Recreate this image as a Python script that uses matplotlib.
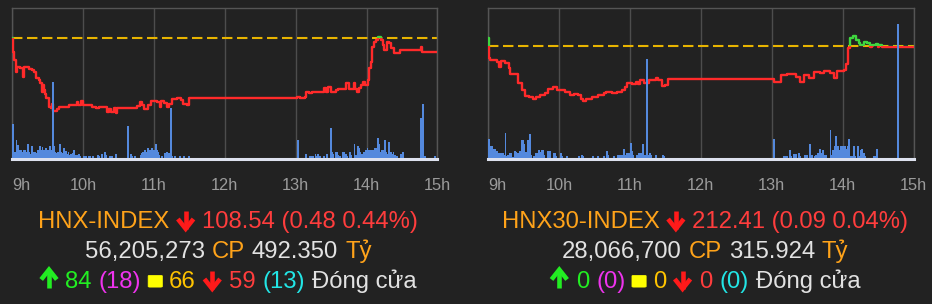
import matplotlib
matplotlib.use('Agg')
import matplotlib.pyplot as plt
from matplotlib.patches import Rectangle, FancyBboxPatch
from matplotlib.lines import Line2D

# ---------------- data ----------------
hour_labels = ['9h', '10h', '11h', '12h', '13h', '14h', '15h']
hour_ticks = [0, 60, 120, 180, 240, 300, 360]   # minutes after 9:00

# HNX-INDEX
hnx_ref = 109.02
hnx_t = [0, 1, 2, 3, 4, 7, 9, 10, 14, 17, 19, 20, 23, 24, 25, 26, 27, 28, 29, 31, 33, 34, 35, 38, 40,
         48, 55, 56, 58, 60, 68, 71, 74, 78, 80, 82, 84, 86, 88, 89, 106, 108, 110, 112, 115, 118, 123,
         125, 126, 129, 131, 133, 135, 140, 143, 145, 148, 150,
         241, 244, 248, 249, 251, 254, 257, 263, 264, 266, 267, 270, 274, 276, 282, 283, 285, 288, 289,
         290, 292, 294, 295, 297, 299, 301, 302, 304, 305, 306, 308, 310, 312, 314, 315, 317, 319, 321,
         323, 326, 328, 346, 347, 360]
hnx_p = [109.04, 108.56, 108.28, 107.87, 108.05, 108.00, 107.70, 108.02, 107.96, 107.93, 107.87, 107.65,
         107.59, 107.48, 107.19, 107.42, 107.25, 107.10, 106.96, 106.67, 106.62, 106.77, 106.53, 106.58,
         106.67, 106.73, 106.85, 106.73, 106.87, 106.73, 106.65, 106.62, 106.67, 106.65, 106.50, 106.59,
         106.50, 106.62, 106.47, 106.62, 106.70, 106.85, 106.73, 106.59, 106.73, 106.87, 106.85, 106.67,
         106.87, 106.79, 106.65, 106.77, 106.93, 106.96, 106.90, 106.77, 106.73, 106.96,
         107.02, 106.98, 107.02, 107.19, 107.14, 107.17, 107.19, 107.19, 107.31, 107.19, 107.34, 107.19,
         107.25, 107.28, 107.28, 107.48, 107.28, 107.28, 107.49, 107.28, 107.19, 107.31, 107.42, 107.53,
         107.42, 107.60, 107.99, 108.22, 108.73, 108.90, 108.97, 109.07, 108.97, 108.79, 108.62, 108.90,
         108.86, 108.68, 108.51, 108.53, 108.62, 108.71, 108.56, 108.54]
hnx_vol_t = [0, 1, 2, 3, 4, 5, 6, 7, 8, 9, 10, 11, 12, 13, 14, 15, 16, 17, 18, 19, 20, 21, 22, 23, 24, 25,
             26, 27, 28, 29, 30, 31, 32, 33, 34, 35, 36, 37, 38, 39, 40, 41, 42, 43, 44, 45, 46, 47, 48,
             49, 50, 51, 52, 53, 54, 55, 56, 57, 60, 61, 62, 64, 65, 68, 72, 73, 75, 78, 79, 82, 84, 87,
             97, 100, 101, 103, 108, 109, 110, 111, 112, 113, 114, 115, 116, 117, 118, 119, 120, 121, 122,
             123, 124, 126, 129, 130, 131, 132, 133, 134, 135, 137, 141, 145, 149,
             241, 248, 251, 252, 254, 256, 257, 258, 260, 263, 266, 269, 270, 271, 273, 274, 275, 277,
             279, 280, 281, 282, 283, 285, 286, 289, 290, 291, 292, 293, 294, 295, 296, 297, 298, 299,
             300, 301, 302, 303, 304, 305, 306, 307, 308, 309, 310, 311, 312, 313, 314, 315, 316, 317,
             318, 319, 320, 321, 322, 323, 325, 328, 330, 345, 346, 347, 349, 357]
hnx_vol = [34, 6, 6, 18, 13, 8, 8, 8, 6, 8, 8, 6, 6, 14, 6, 4, 12, 6, 5, 6, 5, 8, 6, 12, 8, 11,
           8, 6, 10, 6, 8, 12, 6, 8, 76, 12, 6, 5, 6, 4, 14, 6, 5, 10, 6, 7, 4, 6, 3,
           4, 3, 5, 8, 3, 2, 3, 4, 2, 2, 2, 2, 2, 2, 2, 3, 2, 4, 6, 3, 2, 2, 4,
           32, 4, 2, 2, 3, 5, 6, 5, 8, 6, 10, 6, 8, 6, 10, 8, 8, 14, 8,
           6, 3, 2, 5, 6, 4, 5, 3, 50, 2, 2, 2, 2, 2,
           18, 4, 2, 2, 2, 4, 2, 4, 2, 2, 4, 30, 6, 4, 6, 6, 3, 2,
           6, 6, 3, 4, 2, 6, 3, 14, 3, 2, 12, 10, 6, 4, 3, 6, 4, 8,
           10, 8, 6, 8, 6, 8, 10, 8, 10, 20, 14, 6, 8, 6, 8, 18, 6, 4,
           16, 6, 6, 4, 6, 3, 2, 4, 6, 40, 40, 54, 2, 2]

# HNX30-INDEX
h30_ref = 212.50
h30_t = [0, 1, 2, 8, 9, 11, 14, 18, 19, 25, 29, 31, 35, 38, 41, 44, 48, 51, 55, 58, 65, 69, 73, 76, 79,
         80, 83, 88, 93, 98, 100, 105, 109, 113, 116, 118, 122, 125, 127, 129, 132, 136, 139, 142, 144,
         147, 150, 152,
         242, 248, 253, 261, 264, 267, 272, 276, 281, 284, 289, 293, 295, 301, 303, 305, 306, 309, 311,
         314, 315, 318, 321, 323, 325, 328, 330, 331, 333, 335, 360]
h30_p = [213.03, 211.70, 211.57, 211.45, 211.12, 211.48, 211.35, 211.01, 210.63, 210.05, 209.57, 209.17,
         209.12, 208.99, 209.12, 209.23, 209.34, 209.61, 209.79, 209.57, 209.45, 209.23, 209.30, 209.23,
         208.99, 208.85, 208.99, 209.12, 209.23, 209.34, 209.45, 209.34, 209.45, 209.57, 209.79, 210.01,
         209.94, 210.12, 209.94, 210.23, 210.01, 210.23, 210.26, 210.35, 210.23, 209.83, 209.90, 210.30,
         210.12, 210.57, 210.61, 210.45, 210.12, 210.57, 210.39, 210.79, 210.68, 210.83, 210.68, 210.35,
         210.83, 210.90, 211.28, 212.35, 213.01, 213.17, 212.90, 212.68, 212.57, 212.79, 212.68, 212.43,
         212.57, 212.60, 212.43, 212.55, 212.45, 212.41, 212.41]
h30_vol_t = [0, 1, 2, 3, 4, 5, 6, 7, 8, 9, 10, 11, 12, 13, 14, 15, 16, 17, 18, 19, 20, 22, 23, 24, 25,
             26, 27, 28, 29, 30, 31, 32, 33, 34, 35, 36, 38, 39, 40, 41, 42, 43, 44, 45, 46, 47, 50, 51,
             52, 55, 56, 57, 61, 62, 66, 76, 79, 80, 88, 92, 97, 100, 101, 106, 109, 110, 112, 113, 114,
             115, 117, 118, 119, 120, 121, 122, 125, 126, 127, 128, 129, 130, 131, 132, 134, 135, 136,
             137, 141, 147, 148,
             241, 250, 251, 252, 255, 256, 258, 260, 262, 263, 267, 268, 269, 272, 273, 276, 277, 278,
             279, 280, 281, 282, 283, 284, 285, 289, 290, 291, 292, 293, 294, 295, 296, 297, 298, 299,
             300, 301, 302, 303, 304, 305, 306, 308, 309, 310, 312, 313, 315, 316, 317, 318, 326, 327,
             328, 346]
h30_vol = [19, 11.5, 11.5, 11.5, 9, 9, 7, 7, 5, 5, 5, 5, 5, 3, 25, 1.5, 3, 3, 5, 5, 1, 7, 6, 5, 5,
           7, 6, 17.5, 17.5, 13.5, 6, 5, 17.5, 17.5, 23.5, 3, 1.5, 1.5, 5, 5, 7.5, 6, 5, 7.5, 7.5, 3, 7, 7,
           7, 5, 5, 1.5, 5, 1.5, 1.5, 1.5, 3, 1.5, 1.5, 1.5, 1.5, 7, 3, 1.5, 3, 3, 3, 3, 9,
           3, 5, 5, 5, 15, 7, 3, 3, 3, 5, 5, 5, 13.5, 3, 3, 99, 3, 5,
           3, 3, 3, 1.5,
           19, 1.5, 1.5, 1.5, 7.5, 1.5, 3.5, 3.5, 5, 1.5, 3, 3, 3, 13.5, 3, 1.5, 3, 5,
           5, 9, 5, 3, 7.5, 3, 3, 27.5, 3, 7.5, 7.5, 11.5, 21.5, 11.5, 7.5, 5, 11.5, 11.5,
           11.5, 11.5, 9, 9, 11.5, 19, 1.5, 1.5, 11.5, 1.5, 11.5, 1.5, 7.5, 9, 5, 1.5, 1.5, 1.5,
           9, 133.5]

# text ('#down', '#up', '#square' are drawn symbols)
hnx_lines = [
    [('HNX-INDEX', 'orange'), ('#down', 'arrow_red'), ('108.54 (0.48 0.44%)', 'red')],
    [('56,205,273', 'white'), ('CP', 'orange'), ('492.350', 'white'), ('Tỷ', 'orange')],
    [('#up', 'arrow_green'), ('84', 'green'), ('(18)', 'magenta'), ('#square', 'yellow'), ('66', 'gold'),
     ('#down', 'arrow_red'), ('59', 'red'), ('(13)', 'cyan'), ('Đóng cửa', 'white')],
]
h30_lines = [
    [('HNX30-INDEX', 'orange'), ('#down', 'arrow_red'), ('212.41 (0.09 0.04%)', 'red')],
    [('28,066,700', 'white'), ('CP', 'orange'), ('315.924', 'white'), ('Tỷ', 'orange')],
    [('#up', 'arrow_green'), ('0', 'green'), ('(0)', 'magenta'), ('#square', 'yellow'), ('0', 'gold'),
     ('#down', 'arrow_red'), ('0', 'red'), ('(0)', 'cyan'), ('Đóng cửa', 'white')],
]

# ---------------- style ----------------
W, H = 932, 304
BG = '#222222'
COL = {'orange': '#ffa31a', 'red': '#ff3d3d', 'arrow_red': '#ff1a1a', 'white': '#e2e2e2',
       'green': '#22ee22', 'arrow_green': '#22ee22', 'magenta': '#ee33ee', 'yellow': '#ffff00',
       'gold': '#ffc400', 'cyan': '#22e5e5'}
FAM = ['Liberation Sans', 'DejaVu Sans']

fig = plt.figure(figsize=(W / 100, H / 100), dpi=100)
fig.patch.set_facecolor(BG)


def panel(x0, x1, t, p, ref, ylim, vt, vv):
    top, bot = 8, 159
    ax = fig.add_axes([x0 / W, 1 - bot / H, (x1 - x0) / W, (bot - top) / H])
    ax.set_facecolor(BG)
    ax.set_xlim(0, 360)
    ax.set_ylim(*ylim)
    ax.set_yticks([])
    ax.set_xticks(hour_ticks)
    ax.set_xticklabels(hour_labels, family=FAM)
    ax.tick_params(axis='x', length=0, pad=13.5, labelsize=11.8, labelcolor='#9b9b9b')
    ax.get_xticklabels()[0].set_ha('left')
    ax.xaxis.grid(True, color='#4d4d4d', lw=1.0)
    ax.set_axisbelow(True)
    for s in ('top', 'left', 'right'):
        ax.spines[s].set_color('#555555')
        ax.spines[s].set_linewidth(1.0)
    ax.spines['bottom'].set_color('#dde1ee')
    ax.spines['bottom'].set_linewidth(2.2)
    ax.axhline(ref, color='#e8b400', lw=1.5, dashes=(5, 2.2), zorder=2)
    red, = ax.step(t, p, where='post', color='#ff2a2a', lw=1.7, zorder=3)
    grn, = ax.step(t, p, where='post', color='#3fd63f', lw=1.7, zorder=3)
    red.set_clip_path(Rectangle((0, ylim[0]), 360, ref - ylim[0], transform=ax.transData))
    grn.set_clip_path(Rectangle((0, ref), 360, ylim[1] - ref, transform=ax.transData))
    ax2 = ax.twinx()
    ax2.set_ylim(-1.2, 150)
    ax2.bar(vt, vv, width=1.6, align='edge', color='#5489dd', linewidth=0)
    ax2.axis('off')
    return ax


panel(12, 437.5, hnx_t, hnx_p, hnx_ref, (104.88, 110.06), hnx_vol_t, hnx_vol)
panel(488, 913.5, h30_t, h30_p, h30_ref, (204.96, 215.03), h30_vol_t, h30_vol)

renderer = fig.canvas.get_renderer()
GAP = 7.0
FS = 17.2


def fx(x):
    return x / W


def fy(y):
    return 1 - y / H


def draw_symbol(kind, x, yb, color):
    # x: left edge in px, yb: baseline in px (from top)
    if kind == '#square':
        patch = FancyBboxPatch((fx(x + 1.5), fy(yb - 1.5)), 10.5 / W, 10.5 / H,
                               boxstyle='round,pad=0.002', transform=fig.transFigure,
                               facecolor=color, edgecolor=color, lw=0.5)
        fig.add_artist(patch)
        return
    w = 19.0
    h = 17.0
    cx = x + w / 2
    if kind == '#down':
        ytip, ytail = yb - 0.5, yb - h
        ywing = ytip - 8.5
        d = 1.3
    else:
        ytip, ytail = yb - h, yb - 0.5
        ywing = ytip + 8.5
        d = -1.3
    shaft = Line2D([fx(cx), fx(cx)], [fy(ytail), fy(ytip + d)],
                   transform=fig.transFigure, color=color, lw=3.3, solid_capstyle='butt')
    head = Line2D([fx(cx - 7.8), fx(cx), fx(cx + 7.8)], [fy(ywing), fy(ytip + d), fy(ywing)],
                  transform=fig.transFigure, color=color, lw=3.3, solid_joinstyle='miter',
                  solid_capstyle='butt')
    fig.add_artist(shaft)
    fig.add_artist(head)


def rich_line(xc, yb, parts):
    items = []
    for s, c in parts:
        if s.startswith('#'):
            items.append((s, c, 13.5 if s == '#square' else 19.0))
        else:
            tx = fig.text(0, fy(yb), s, color=COL[c], ha='left', va='baseline', family=FAM, fontsize=FS)
            items.append((tx, c, tx.get_window_extent(renderer).width))
    total = sum(i[2] for i in items) + GAP * (len(items) - 1)
    x = xc - total / 2
    for obj, c, w in items:
        if isinstance(obj, str):
            draw_symbol(obj, x, yb, COL[c])
        else:
            obj.set_x(fx(x))
        x += w + GAP


for i, ln in enumerate(hnx_lines):
    rich_line(228, 228 + 30 * i, ln)
for i, ln in enumerate(h30_lines):
    rich_line(705, 228 + 30 * i, ln)

fig.savefig('out.png', dpi=100, facecolor=BG)
